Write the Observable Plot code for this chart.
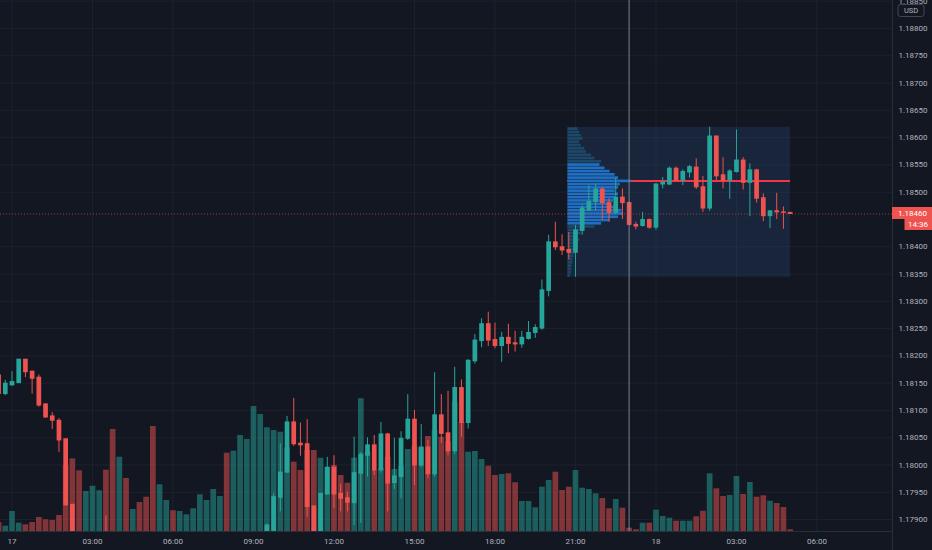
<!DOCTYPE html>
<html><head><meta charset="utf-8">
<script src="https://cdn.jsdelivr.net/npm/d3@7"></script>
<script src="https://cdn.jsdelivr.net/npm/@observablehq/plot@0.6"></script>
<style>
html,body{margin:0;padding:0;background:#131722;}
#chart{position:relative;width:932px;height:550px;background:#131722;overflow:hidden;}
#chart svg{position:absolute;left:0;top:0;}
</style></head><body><div id="chart"></div>
<script>
// ---- data: 15-minute candles, first bar at 2021-08-16 23:30 UTC ----
const firstBarTime = "2021-08-16T23:30:00Z";
const barMinutes = 15;
const open = [
1.18164,1.18130,1.18146,1.18150,1.18193,1.18171,1.18160,1.18111,1.18089,1.18081,
1.18047,1.17927,1.17855,1.17830,1.17842,1.17852,1.17862,1.17835,1.17800,1.17828,
1.17810,1.17818,1.17805,1.17795,1.17770,1.17790,1.17800,1.17792,1.17802,1.17808,
1.17815,1.17826,1.17832,1.17844,1.17848,1.17818,1.17835,1.17848,1.17855,1.17862,
1.17868,1.17876,1.17940,1.17986,1.18078,1.18039,1.18038,1.17924,1.17872,1.17946,
1.17995,1.17947,1.17939,1.17930,1.17984,1.18017,1.18036,1.17990,1.18056,1.17967,
1.17978,1.18048,1.18083,1.17999,1.18032,1.17983,1.18091,1.18058,1.18025,1.18141,
1.18077,1.18190,1.18227,1.18258,1.18229,1.18218,1.18233,1.18223,1.18221,1.18231,
1.18242,1.18250,1.18319,1.18408,1.18399,1.18394,1.18389,1.18429,1.18466,1.18482,
1.18505,1.18480,1.18462,1.18490,1.18480,1.18440,1.18438,1.18449,1.18435,1.18514,
1.18514,1.18543,1.18521,1.18536,1.18545,1.18509,1.18470,1.18602,1.18531,1.18521,
1.18537,1.18558,1.18517,1.18540,1.18489,1.18456,1.18465,1.18463,1.18462];
const high = [
1.18170,1.18155,1.18171,1.18193,1.18193,1.18172,1.18165,1.18112,1.18096,1.18085,
1.18048,1.17928,1.17862,1.17848,1.17860,1.17868,1.17907,1.17840,1.17835,1.17832,
1.17822,1.17822,1.17810,1.17800,1.17795,1.17805,1.17805,1.17805,1.17810,1.17818,
1.17830,1.17835,1.17848,1.17852,1.17852,1.17840,1.17852,1.17860,1.17868,1.17872,
1.17892,1.17947,1.18039,1.18089,1.18122,1.18077,1.18083,1.17925,1.17948,1.18014,
1.18017,1.17965,1.17950,1.18051,1.18023,1.18050,1.18054,1.18078,1.18058,1.18049,
1.18061,1.18129,1.18100,1.18074,1.18045,1.18169,1.18129,1.18135,1.18179,1.18156,
1.18193,1.18239,1.18268,1.18280,1.18260,1.18243,1.18258,1.18245,1.18245,1.18263,
1.18257,1.18339,1.18421,1.18445,1.18422,1.18426,1.18439,1.18476,1.18512,1.18515,
1.18509,1.18488,1.18525,1.18506,1.18482,1.18445,1.18463,1.18451,1.18516,1.18527,
1.18546,1.18546,1.18541,1.18549,1.18561,1.18529,1.18619,1.18603,1.18563,1.18541,
1.18614,1.18563,1.18552,1.18542,1.18497,1.18466,1.18498,1.18473,1.18463];
const low = [
1.18125,1.18127,1.18144,1.18150,1.18160,1.18130,1.18106,1.18086,1.18065,1.18023,
1.17925,1.17850,1.17825,1.17822,1.17835,1.17845,1.17830,1.17790,1.17795,1.17805,
1.17805,1.17800,1.17790,1.17760,1.17765,1.17785,1.17788,1.17790,1.17798,1.17805,
1.17810,1.17820,1.17828,1.17838,1.17810,1.17812,1.17828,1.17840,1.17848,1.17855,
1.17860,1.17870,1.17914,1.17985,1.18034,1.18016,1.17904,1.17860,1.17865,1.17945,
1.17920,1.17914,1.17914,1.17889,1.17893,1.17978,1.17981,1.17985,1.17914,1.17955,
1.17938,1.18045,1.17962,1.17995,1.17975,1.17978,1.18040,1.18017,1.18019,1.18051,
1.18066,1.18185,1.18215,1.18217,1.18213,1.18188,1.18204,1.18207,1.18214,1.18229,
1.18232,1.18247,1.18308,1.18393,1.18384,1.18376,1.18344,1.18421,1.18466,1.18466,
1.18449,1.18445,1.18460,1.18450,1.18438,1.18431,1.18436,1.18432,1.18430,1.18506,
1.18512,1.18519,1.18512,1.18526,1.18505,1.18463,1.18465,1.18521,1.18506,1.18487,
1.18535,1.18504,1.18455,1.18480,1.18446,1.18433,1.18450,1.18432,1.18459];
const close = [
1.18130,1.18149,1.18152,1.18193,1.18170,1.18158,1.18109,1.18087,1.18081,1.18045,
1.17926,1.17855,1.17830,1.17842,1.17852,1.17862,1.17835,1.17800,1.17828,1.17810,
1.17818,1.17805,1.17795,1.17770,1.17790,1.17800,1.17792,1.17802,1.17808,1.17815,
1.17826,1.17832,1.17844,1.17848,1.17818,1.17835,1.17848,1.17855,1.17862,1.17868,
1.17889,1.17941,1.17986,1.18078,1.18038,1.18036,1.17923,1.17872,1.17947,1.17995,
1.17946,1.17938,1.17931,1.17985,1.18019,1.18036,1.17990,1.18056,1.17966,1.17979,
1.18048,1.18083,1.17999,1.18032,1.17983,1.18091,1.18057,1.18025,1.18141,1.18077,
1.18191,1.18228,1.18258,1.18228,1.18218,1.18233,1.18222,1.18221,1.18233,1.18242,
1.18251,1.18320,1.18408,1.18399,1.18393,1.18389,1.18430,1.18470,1.18482,1.18505,
1.18480,1.18462,1.18490,1.18480,1.18440,1.18437,1.18449,1.18435,1.18514,1.18517,
1.18543,1.18521,1.18537,1.18546,1.18509,1.18470,1.18602,1.18529,1.18521,1.18538,
1.18558,1.18517,1.18540,1.18488,1.18456,1.18465,1.18463,1.18462,1.18460];
const volume = [
87,53,200,83,67,90,140,117,110,160,
660,727,607,400,453,407,613,1020,743,530,
220,290,343,1050,467,310,207,200,167,227,
367,310,420,350,783,803,960,920,1250,1170,
1037,1010,993,833,693,610,810,810,733,640,
660,560,483,733,1327,793,610,630,743,620,
650,820,850,837,950,1010,943,893,1293,1090,
793,800,720,653,560,570,577,487,300,300,
237,443,510,593,410,443,610,433,420,377,
330,227,320,233,33,17,83,83,213,150,
133,103,103,103,147,203,577,427,350,360,
550,370,490,343,357,303,280,240,17];

// volume profile (fixed range), rows from top price to bottom price
const profileStart = "2021-08-17T20:43:00Z";
const profileEnd = "2021-08-18T05:01:00Z";
const profileVolume = [30,35,40,45,35,40,50,55,70,80,100,95,110,125,140,150,188,155,150,140,
  150,140,135,130,150,160,165,150,125,100,80,50,40,30,35,30,30,25,20,18,15,15,12,12,10,8];
const valueAreaShare = 0.7;
const profileWidthShare = 0.285;

// crosshair bar time and clock label
const crosshairTime = "2021-08-17T23:00:00Z";
const countdownLabel = "14:36";
const currencyLabel = "USD";

// axes (1.18450 is hidden behind the last-price label)
const viewStart = "2021-08-16T23:34:17Z";
const viewEnd = "2021-08-18T08:48:54Z";
const viewPriceLow = 1.178781, viewPriceHigh = 1.188513;
const priceTicks = [1.1790,1.1795,1.1800,1.1805,1.1810,1.1815,1.1820,1.1825,1.1830,1.1835,
  1.1840,1.1850,1.1855,1.1860,1.1865,1.1870,1.1875,1.1880,1.1885];
const timeTicks = ["2021-08-17T00:00:00Z","2021-08-17T03:00:00Z","2021-08-17T06:00:00Z","2021-08-17T09:00:00Z",
  "2021-08-17T12:00:00Z","2021-08-17T15:00:00Z","2021-08-17T18:00:00Z","2021-08-17T21:00:00Z",
  "2021-08-18T00:00:00Z","2021-08-18T03:00:00Z","2021-08-18T06:00:00Z"];
const timeTickLabels = ["17","03:00","06:00","09:00","12:00","15:00","18:00","21:00","18","03:00","06:00"];

// ---- build ----
const UP = "#26a69a", DOWN = "#ef5350", GRID = "#1d212c", AXIS = "#2a2e39";
const t0 = Date.parse(firstBarTime);
const bars = open.map((o, k) => ({
  t: new Date(t0 + k * barMinutes * 60000), o, h: high[k], l: low[k], c: close[k], v: volume[k],
  up: close[k] >= o
}));
const tTicks = timeTicks.map(s => new Date(s));
const labelMap = new Map(tTicks.map((d, k) => [+d, timeTickLabels[k]]));
const xDomain = [new Date(viewStart), new Date(viewEnd)];
const yDomain = [viewPriceLow, viewPriceHigh];

const pS = new Date(profileStart), pE = new Date(profileEnd);
const inRange = bars.filter(b => b.t >= pS && b.t <= pE);
const pTop = d3.max(inRange, b => b.h), pBot = d3.min(inRange, b => b.l);
const nRows = profileVolume.length, rowH = (pTop - pBot) / nRows;
const poc = d3.maxIndex(profileVolume);
const totalV = d3.sum(profileVolume);
let vaLo = poc, vaHi = poc, acc = profileVolume[poc];
while (acc < valueAreaShare * totalV) {
  const up = vaLo > 0 ? profileVolume[vaLo - 1] : -1;
  const dn = vaHi < nRows - 1 ? profileVolume[vaHi + 1] : -1;
  if (up >= dn) { vaLo--; acc += up; } else { vaHi++; acc += dn; }
}
const maxPV = d3.max(profileVolume);
const span = pE - pS;
const profileRows = profileVolume.map((v, k) => ({
  yHigh: pTop - k * rowH, yLow: pTop - (k + 1) * rowH,
  x2: new Date(+pS + v / maxPV * profileWidthShare * span),
  va: k >= vaLo && k <= vaHi
}));
const pocPrice = pTop - (poc + 0.5) * rowH;
const last = bars[bars.length - 1];

const common = {
  width: 932, height: 550, marginLeft: 0, marginRight: 40, marginTop: 0, marginBottom: 19,
  style: {background: "transparent", color: "#b2b5be", fontFamily: "Roboto, 'Liberation Sans', sans-serif", fontSize: "8px", overflow: "visible"}
};

const gridPlot = Plot.plot({
  ...common,
  x: {type: "utc", domain: xDomain, axis: null},
  y: {domain: yDomain, axis: null},
  marks: [
    Plot.ruleY(priceTicks, {stroke: GRID}),
    Plot.ruleX(tTicks, {stroke: GRID})
  ]
});

const volPlot = Plot.plot({
  ...common,
  x: {type: "utc", domain: xDomain, axis: null},
  y: {domain: [0, 5310], axis: null},
  marks: [
    Plot.ruleX(bars, {x: "t", y1: 0, y2: "v", stroke: d => d.up ? UP : DOWN, strokeOpacity: 0.5, strokeWidth: 5.7, clip: true})
  ]
});

const mainPlot = Plot.plot({
  ...common,
  x: {type: "utc", domain: xDomain, ticks: tTicks, tickFormat: d => labelMap.get(+d), tickSize: 0, tickPadding: 7, label: null},
  y: {domain: yDomain, axis: "right", ticks: priceTicks, tickFormat: d => d.toFixed(5), tickSize: 0, tickPadding: 6, label: null},
  marks: [
    Plot.rect([0], {x1: () => pS, x2: () => pE, y1: () => pBot, y2: () => pTop, fill: "#2e5f9e", fillOpacity: 0.2}),
    Plot.ruleY([pocPrice], {x1: () => pS, x2: () => pE, stroke: "#f23645", strokeWidth: 2}),
    Plot.rect(profileRows, {x1: () => pS, x2: "x2", y1: "yLow", y2: "yHigh", fill: d => d.va ? "#1f70c4" : "#1d4867", insetTop: 0.6}),
    Plot.ruleX(bars, {x: "t", y1: "l", y2: "h", stroke: d => d.up ? UP : DOWN, strokeWidth: 1, clip: true}),
    Plot.ruleX(bars, {x: "t", y1: d => Math.max(d.o, d.c), y2: d => Math.min(d.o, d.c), stroke: d => d.up ? UP : DOWN, strokeWidth: 4.7, insetTop: -0.5, insetBottom: -0.5, clip: true}),
    Plot.ruleY([last.c], {stroke: DOWN, strokeOpacity: 0.6, strokeDasharray: "1,2"}),
    Plot.ruleX([new Date(crosshairTime)], {stroke: "#9598a1", strokeOpacity: 0.55, strokeWidth: 1.5})
  ]
});

const chart = document.getElementById("chart");
chart.append(gridPlot, volPlot, mainPlot);

// price-scale decorations
const svg = d3.select(mainPlot);
const yS = mainPlot.scale("y");
const yl = yS.apply(last.c);
svg.append("line").attr("x1", 892.5).attr("x2", 892.5).attr("y1", 0).attr("y2", 550).attr("stroke", AXIS);
svg.append("line").attr("x1", 0).attr("x2", 892).attr("y1", 531.5).attr("y2", 531.5).attr("stroke", AXIS);
svg.append("rect").attr("x", 898).attr("y", 4.5).attr("width", 26).attr("height", 12).attr("rx", 2.5)
  .attr("fill", "#131722").attr("stroke", "#434651");
svg.append("text").attr("x", 911).attr("y", 10.8).attr("dy", "0.32em").attr("text-anchor", "middle")
  .attr("fill", "#b2b5be").attr("font-size", 7.5).text(currencyLabel);
svg.append("rect").attr("x", 892).attr("y", yl - 6.5).attr("width", 40).attr("height", 12).attr("fill", DOWN);
svg.append("text").attr("x", 898).attr("y", yl).attr("dy", "0.32em").attr("text-anchor", "start").attr("fill", "#ffffff").text(last.c.toFixed(5));
svg.append("rect").attr("x", 904.5).attr("y", yl + 5.5).attr("width", 27.5).attr("height", 11).attr("fill", DOWN);
svg.append("text").attr("x", 908).attr("y", yl + 11).attr("dy", "0.32em").attr("text-anchor", "start").attr("fill", "#ffffff").text(countdownLabel);
</script></body></html>
